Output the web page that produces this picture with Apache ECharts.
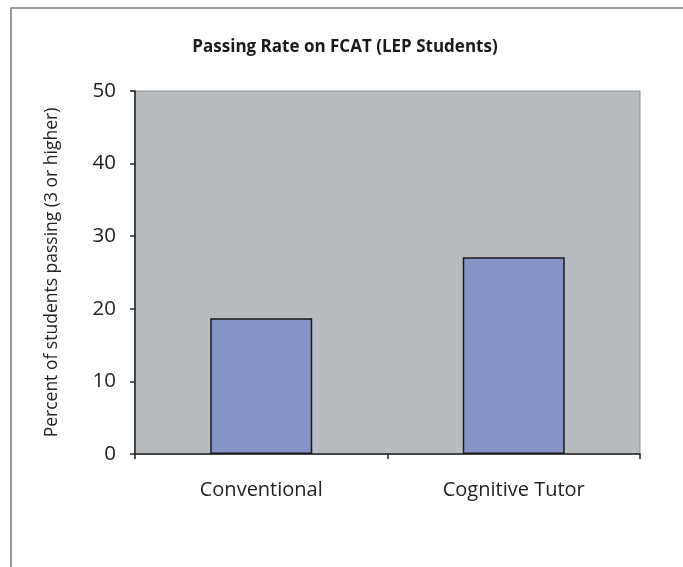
<!DOCTYPE html>
<html>
<head>
<meta charset="utf-8">
<script src="https://cdn.jsdelivr.net/npm/echarts@6/dist/echarts.min.js"></script>
<style>
  html, body { margin: 0; padding: 0; background: #fff; }
  #chart { width: 683px; height: 567px; }
</style>
</head>
<body>
<div id="chart"></div>
<script>
// chart data
const groups = ["Conventional", "Cognitive Tutor"];
const passRates = [18.7, 27.1];
const yTicks = [0, 10, 20, 30, 40, 50];

const chart = echarts.init(document.getElementById("chart"));

const font = "'Open Sans', 'Noto Sans', sans-serif";

chart.setOption({
  animation: false,
  backgroundColor: "#ffffff",
  title: {
    text: "Passing Rate on FCAT (LEP Students)",
    left: 340,
    textAlign: "center",
    top: 34,
    textStyle: { fontFamily: font, fontSize: 17, fontWeight: "bold", color: "#1a1a1a" },
  },
  // outer frame of the figure
  graphic: [
    {
      type: "rect",
      shape: { x: 11, y: 8, width: 720, height: 620 },
      style: { fill: "none", stroke: "#7a7a7a", lineWidth: 1.5 },
      silent: true,
    },
  ],
  grid: {
    left: 135,
    right: 43,
    top: 91,
    bottom: 113,
    show: true,
    backgroundColor: "#b8bcbf",
    borderColor: "#8c9093",
    borderWidth: 1,
  },
  xAxis: {
    type: "category",
    data: groups,
    axisLine: { lineStyle: { color: "#222", width: 1.5 } },
    axisTick: { show: true, length: 5, lineStyle: { color: "#222", width: 1.5 } },
    axisLabel: { margin: 26, fontFamily: font, fontSize: 20, color: "#222" },
  },
  yAxis: {
    type: "value",
    min: yTicks[0],
    max: yTicks[yTicks.length - 1],
    interval: 10,
    name: "Percent of students passing (3 or higher)",
    nameLocation: "middle",
    nameGap: 74,
    nameTextStyle: { fontFamily: font, fontSize: 17.5, color: "#222" },
    axisLine: { show: true, lineStyle: { color: "#222", width: 1.5 } },
    axisTick: { show: true, length: 5, lineStyle: { color: "#222", width: 1.5 } },
    splitLine: { show: false },
    axisLabel: { margin: 19, fontFamily: font, fontSize: 20.5, color: "#222" },
  },
  series: [
    {
      type: "bar",
      data: passRates,
      barWidth: 102,
      itemStyle: { color: "#8494c8", borderColor: "#1a1a1a", borderWidth: 1.5 },
    },
  ],
});
</script>
</body>
</html>
